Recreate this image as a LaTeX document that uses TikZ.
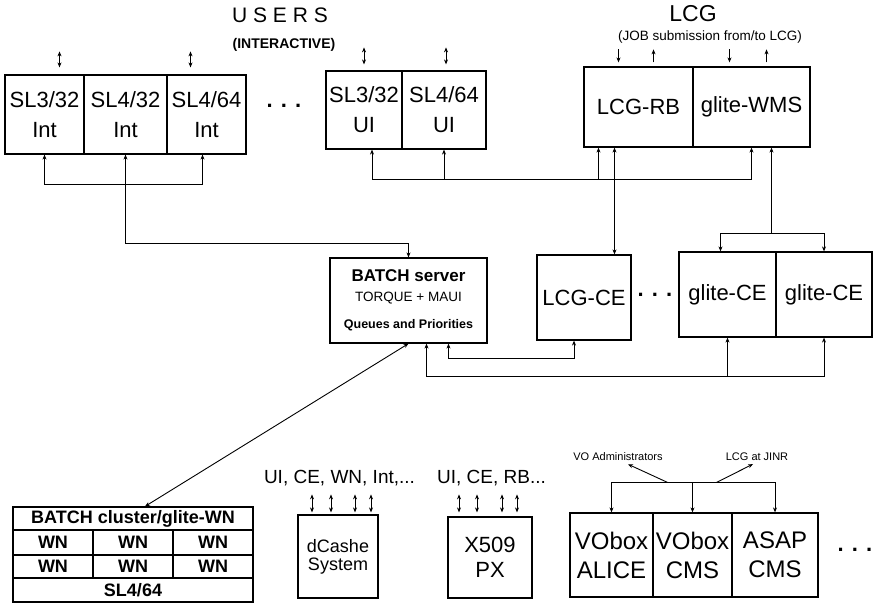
\documentclass[tikz,border=0pt]{standalone}
\usepackage{fontspec}
\setmainfont{Liberation Sans}
\usetikzlibrary{arrows.meta}
\begin{document}
\begin{tikzpicture}[x=1pt, y=-1pt, >={Stealth[length=5pt,width=4pt]},
  box/.style={draw, line width=1.2pt, inner sep=0pt, align=center, font=\fontsize{22}{30}\selectfont},
  cluster/.style={box, font=\bfseries\fontsize{18}{20}\selectfont},
  wire/.style={line width=0.9pt},
  dbl/.style={<->, line width=0.8pt},
  title/.style={inner sep=0pt, align=center}]
  \useasboundingbox (0,0) rectangle (874,604);

  % titles
  \node[title, font=\fontsize{21}{24}\selectfont] (users) at (280,15) {U S E R S};
  \node[title, font=\bfseries\fontsize{14}{16}\selectfont] (inter) at (284,45) {(INTERACTIVE)};
  \node[title, font=\fontsize{23}{26}\selectfont, anchor=base] (lcg) at (693,22) {LCG};
  \node[title, font=\fontsize{13.5}{16}\selectfont, anchor=base] (jobsub) at (710,41) {(JOB submission from/to LCG)};

  % interactive nodes and UIs
  \node[box, minimum width=79pt, minimum height=79pt] (int1) at (44.5,114.5) {SL3/32\\Int};
  \node[box, minimum width=83pt, minimum height=79pt] (int2) at (125.5,114.5) {SL4/32\\Int};
  \node[box, minimum width=79pt, minimum height=79pt] (int3) at (206.5,114.5) {SL4/64\\Int};
  \node[title, font=\bfseries\fontsize{22}{24}\selectfont] (dots1) at (284,106) {. . .};
  \node[box, minimum width=76pt, minimum height=78pt] (ui1) at (364,110) {SL3/32\\UI};
  \node[box, minimum width=84pt, minimum height=78pt] (ui2) at (444,110) {SL4/64\\UI};

  % LCG services
  \node[box, minimum width=109pt, minimum height=80pt] (rb) at (638.5,107) {LCG-RB};
  \node[box, minimum width=117pt, minimum height=80pt] (wms) at (751.5,107) {glite-WMS};

  % batch server and CEs
  \node[box, font=\fontsize{13.5}{20}\selectfont, minimum width=157pt, minimum height=85pt] (batch) at (408.5,300.5)
    {\bfseries\fontsize{17}{20}\selectfont BATCH server\\
     \mdseries\fontsize{13.5}{20}\selectfont TORQUE + MAUI\\[7pt]
     \bfseries\fontsize{12.5}{20}\selectfont Queues and Priorities};
  \node[box, minimum width=94pt, minimum height=85pt] (lcgce) at (584,297.5) {LCG-CE};
  \node[title, font=\bfseries\fontsize{22}{24}\selectfont] (dots2) at (655,295) {. . .};
  \node[box, minimum width=97pt, minimum height=85pt] (gce1) at (727.5,294.5) {glite-CE};
  \node[box, minimum width=96pt, minimum height=85pt] (gce2) at (824,294.5) {glite-CE};

  % batch cluster
  \node[cluster, minimum width=240pt, minimum height=23pt] (wntitle) at (133,518.5) {BATCH cluster/glite-WN};
  \foreach \c/\x in {1/53,2/133,3/213} {
    \node[cluster, minimum width=80pt, minimum height=25pt] (wna\c) at (\x,542.5) {WN};
    \node[cluster, minimum width=80pt, minimum height=23pt] (wnb\c) at (\x,566.5) {WN};
  }
  \node[cluster, minimum width=240pt, minimum height=24pt] (wnos) at (133,590) {SL4/64};

  % storage and proxy
  \node[title, font=\fontsize{19}{22}\selectfont] (dcusers) at (339.5,478) {UI, CE, WN, Int,...};
  \node[box, font=\fontsize{18}{18}\selectfont, minimum width=80pt, minimum height=83pt] (dcache) at (338,556.5) {dCashe\\System};
  \node[title, font=\fontsize{19}{22}\selectfont] (pxusers) at (491.5,478) {UI, CE, RB...};
  \node[box, font=\fontsize{22}{25}\selectfont, minimum width=84pt, minimum height=81pt] (px) at (490,557.5) {X509\\PX};

  % VO boxes
  \node[title, font=\fontsize{11}{13}\selectfont] (voadm) at (618,457) {VO Administrators};
  \node[title, font=\fontsize{11}{13}\selectfont] (lcgjinr) at (757,457) {LCG at JINR};
  \node[box, font=\fontsize{24}{29}\selectfont, minimum width=83pt, minimum height=84pt] (vo1) at (611.5,555) {VObox\\ALICE};
  \node[box, font=\fontsize{24}{29}\selectfont, minimum width=79pt, minimum height=84pt] (vo2) at (692.5,555) {VObox\\CMS};
  \node[box, font=\fontsize{24}{29}\selectfont, minimum width=86pt, minimum height=84pt] (vo3) at (775,555) {ASAP\\CMS};
  \node[title, font=\bfseries\fontsize{22}{24}\selectfont] (dots3) at (855,550) {. . .};

  % user access
  \draw[dbl] ([shift={(15pt,7pt)}]int1.north) -- ++(0,-16);
  \draw[dbl] ([shift={(-16pt,7pt)}]int3.north) -- ++(0,-16);
  \draw[dbl] ([shift={(0pt,6pt)}]ui1.north) -- ++(0,-17);
  \draw[dbl] ([shift={(2pt,6pt)}]ui2.north) -- ++(0,-17);
  \draw[wire, ->] ([shift={(-20pt,17pt)}]rb.north) -- ++(0,13);
  \draw[wire, ->] ([shift={(15pt,4pt)}]rb.north) -- ++(0,-13);
  \draw[wire, ->] ([shift={(-22pt,17pt)}]wms.north) -- ++(0,13);
  \draw[wire, ->] ([shift={(15pt,4pt)}]wms.north) -- ++(0,-13);

  % interactive nodes to batch server
  \draw[wire, <->] (int1.south) -- ++(0,30) -| ([xshift=-4pt]int3.south);
  \draw[wire, <->] (int2.south) -- ++(0,89) -| (batch.north);

  % UIs to RB and WMS
  \coordinate (uibus) at ([yshift=-30pt]ui1.south);
  \coordinate (rbin) at ([xshift=-40pt]rb.south);
  \draw[wire, <->] ([xshift=8pt]ui1.south) |- (uibus -| wms.south) -- (wms.south);
  \draw[wire, ->] (uibus -| ui2.south) -- (ui2.south);
  \draw[wire, ->] (uibus -| rbin) -- (rbin);

  % RB and WMS to CEs
  \draw[wire, <->] ([xshift=-24pt]rb.south) -- ([xshift=-24pt]rb.south |- lcgce.north);
  \coordinate (cebus) at ([yshift=18pt]gce1.north);
  \coordinate (wmsout) at ([xshift=20pt]wms.south);
  \draw[wire, <->] ([xshift=-7pt]gce1.north) |- (cebus -| gce2.north) -- (gce2.north);
  \draw[wire, ->] (cebus -| wmsout) -- (wmsout);

  % batch server to CEs
  \draw[wire, <->] ([xshift=40pt]batch.south) -- ++(0,15) -| ([xshift=-10pt]lcgce.south);
  \coordinate (batchbus) at ([yshift=-33pt]batch.south);
  \draw[wire, <->] ([xshift=18pt]batch.south) |- (batchbus -| gce2.south) -- (gce2.south);
  \draw[wire, ->] (batchbus -| gce1.south) -- (gce1.south);

  % batch server to worker nodes
  \draw[wire, <->] (batch.south) -- ([xshift=12pt]wntitle.north);

  % storage and proxy access
  \foreach \dx in {-26,-7,17,33}
    \draw[dbl] ([shift={(\dx pt,2pt)}]dcache.north) -- ++(0,-18);
  \foreach \dx in {-31,-13,12,27}
    \draw[dbl] ([shift={(\dx pt,4pt)}]px.north) -- ++(0,-18);

  % VO boxes access
  \coordinate (vobus) at ([yshift=30pt]vo1.north);
  \draw[wire, <->] (vo1.north) |- (vobus -| vo3.north) -- (vo3.north);
  \draw[wire, ->] (vobus -| vo2.north) -- (vo2.north);
  \draw[wire, ->] ([xshift=56pt]vobus) -- ([shift={(10pt,-3pt)}]voadm.south);
  \draw[wire, ->] ([xshift=105pt]vobus) -- ([shift={(-4pt,-3pt)}]lcgjinr.south);
\end{tikzpicture}
\end{document}
